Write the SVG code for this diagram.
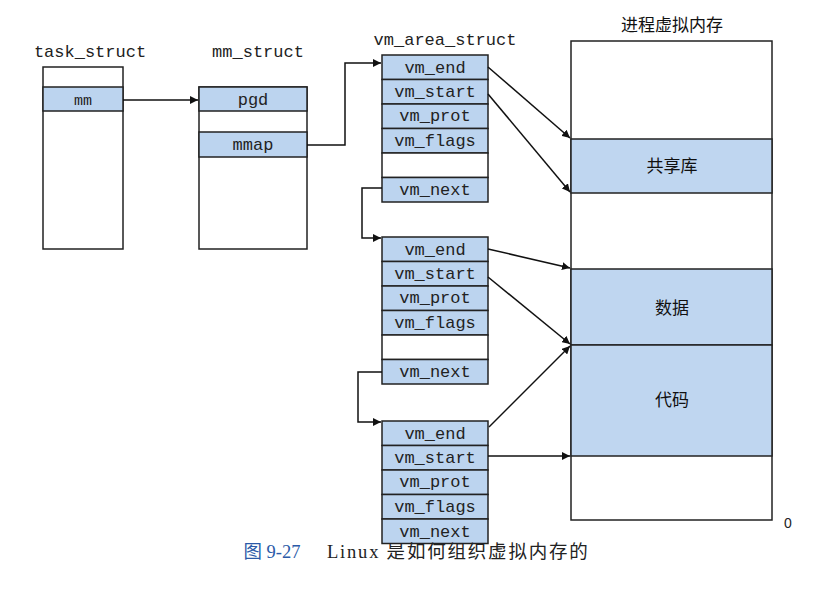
<svg xmlns="http://www.w3.org/2000/svg" width="813" height="589" viewBox="0 0 813 589">
<defs>
<style>
.box{fill:#fff;stroke:#222;stroke-width:1.5}
.f{fill:#bcd4ef;stroke:#222;stroke-width:1.5}
.m{fill:#bfd6f0;stroke:#222;stroke-width:1.5}
.t{font-family:"Liberation Mono",monospace;font-size:17px;fill:#222;text-anchor:middle}
.c{font-family:"Noto Sans CJK SC",sans-serif;font-size:17px;fill:#111;text-anchor:middle}
.ln{fill:none;stroke:#111;stroke-width:1.5}
.cap{font-family:"Liberation Serif","Noto Sans CJK SC",serif;font-size:18.5px}
</style>
<marker id="ah" viewBox="0 0 10 10" refX="10" refY="5" markerWidth="8" markerHeight="8" markerUnits="userSpaceOnUse" orient="auto"><path d="M0,0 L10,5 L0,10 z" fill="#111"/></marker>
</defs>
<rect width="813" height="589" fill="#fff"/>

<g id="task_struct">
<text class="t" x="90" y="57">task_struct</text>
<rect class="box" x="43" y="67" width="80" height="182"/>
<rect class="f" x="43" y="87" width="80" height="24"/>
<text class="t" x="83" y="105" style="font-size:15px">mm</text>
</g>

<g id="mm_struct">
<text class="t" x="258" y="57">mm_struct</text>
<rect class="box" x="199" y="87" width="108" height="162"/>
<rect class="f" x="199" y="87" width="108" height="24"/>
<text class="t" x="253" y="105">pgd</text>
<rect class="f" x="199" y="132" width="108" height="25"/>
<text class="t" x="253" y="150">mmap</text>
</g>

<g id="vm_area_struct_1">
<text class="t" x="445" y="45">vm_area_struct</text>
<rect class="f" x="382" y="55" width="106" height="24.5"/>
<text class="t" x="435" y="73">vm_end</text>
<rect class="f" x="382" y="79.5" width="106" height="24.5"/>
<text class="t" x="435" y="97">vm_start</text>
<rect class="f" x="382" y="104" width="106" height="24.5"/>
<text class="t" x="435" y="121">vm_prot</text>
<rect class="f" x="382" y="128.5" width="106" height="24.5"/>
<text class="t" x="435" y="146">vm_flags</text>
<rect class="box" x="382" y="153" width="106" height="24.5"/>
<rect class="f" x="382" y="177.5" width="106" height="24.5"/>
<text class="t" x="435" y="195">vm_next</text>
</g>

<g id="vm_area_struct_2">
<rect class="f" x="382" y="237" width="106" height="24.5"/>
<text class="t" x="435" y="255">vm_end</text>
<rect class="f" x="382" y="261.5" width="106" height="24.5"/>
<text class="t" x="435" y="279">vm_start</text>
<rect class="f" x="382" y="286" width="106" height="24.5"/>
<text class="t" x="435" y="303">vm_prot</text>
<rect class="f" x="382" y="310.5" width="106" height="24.5"/>
<text class="t" x="435" y="328">vm_flags</text>
<rect class="box" x="382" y="335" width="106" height="24.5"/>
<rect class="f" x="382" y="359.5" width="106" height="24.5"/>
<text class="t" x="435" y="377">vm_next</text>
</g>

<g id="vm_area_struct_3">
<rect class="f" x="382" y="421" width="106" height="24.5"/>
<text class="t" x="435" y="439">vm_end</text>
<rect class="f" x="382" y="445.5" width="106" height="24.5"/>
<text class="t" x="435" y="463">vm_start</text>
<rect class="f" x="382" y="470" width="106" height="24.5"/>
<text class="t" x="435" y="487">vm_prot</text>
<rect class="f" x="382" y="494.5" width="106" height="24.5"/>
<text class="t" x="435" y="512">vm_flags</text>
<rect class="f" x="382" y="519" width="106" height="24.5"/>
<text class="t" x="435" y="537">vm_next</text>
</g>

<g id="process_vm">
<text class="c" x="672" y="31">进程虚拟内存</text>
<rect class="box" x="571" y="41" width="201" height="479"/>
<rect class="m" x="571" y="139" width="201" height="54"/>
<text class="c" x="672" y="172">共享库</text>
<rect class="m" x="571" y="269" width="201" height="76"/>
<text class="c" x="672" y="314">数据</text>
<rect class="m" x="571" y="345" width="201" height="111"/>
<text class="c" x="672" y="406">代码</text>
<text x="788" y="528" style="font-family:'Liberation Sans',sans-serif;font-size:14px;fill:#222" text-anchor="middle">0</text>
</g>

<g id="connectors">
<path class="ln" d="M123,100 H198" marker-end="url(#ah)"/>
<path class="ln" d="M307,145 H345 V63 H381" marker-end="url(#ah)"/>
<path class="ln" d="M382,188 H362 V238 H381" marker-end="url(#ah)"/>
<path class="ln" d="M382,372 H358 V422 H381" marker-end="url(#ah)"/>
<path class="ln" d="M488,67 L570,138" marker-end="url(#ah)"/>
<path class="ln" d="M488,94 L570,192" marker-end="url(#ah)"/>
<path class="ln" d="M488,249 L570,268" marker-end="url(#ah)"/>
<path class="ln" d="M488,277 L570,344" marker-end="url(#ah)"/>
<path class="ln" d="M489,427 L570,346" marker-end="url(#ah)"/>
<path class="ln" d="M488,456 H570" marker-end="url(#ah)"/>
</g>

<g id="caption">
<text class="cap" x="272" y="558" style="fill:#2b5aa8" text-anchor="middle">图 9-27</text>
<text class="cap" x="327" y="558" style="fill:#222;letter-spacing:1.8px">Linux 是如何组织虚拟内存的</text>
</g>
</svg>
